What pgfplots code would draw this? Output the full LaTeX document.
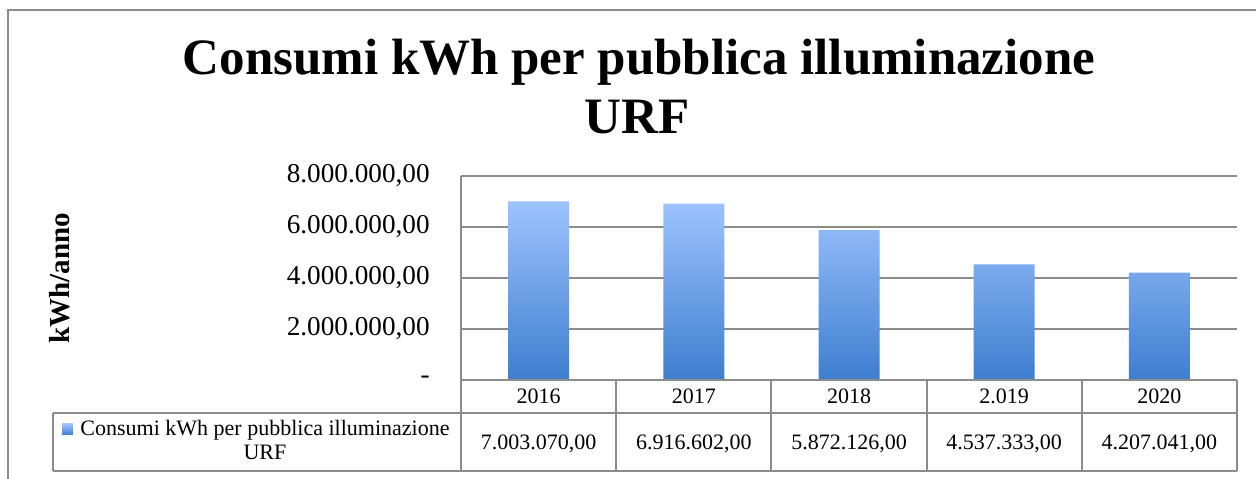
\documentclass[border=0pt]{standalone}
\usepackage{pgfplots}
\pgfplotsset{compat=1.18}
\usepackage{fontspec}
\setmainfont{Liberation Serif}
\definecolor{barTop}{RGB}{157,195,255}
\definecolor{barBot}{RGB}{62,126,206}
\definecolor{lineGray}{RGB}{140,140,140}
\begin{document}
\begin{tikzpicture}
\begin{axis}[
  at={(230.5bp,49.5bp)}, anchor=south west,
  scale only axis, width=388bp, height=102bp,
  xmin=0, xmax=5, ymin=0, ymax=8000000,
  axis line style={draw=none},
  major tick length=0pt,
  scaled y ticks=false,
  ytick={0,2000000,4000000,6000000,8000000},
  yticklabels={{-\hspace{6.5bp}},{2.000.000,00},{4.000.000,00},{6.000.000,00},{8.000.000,00}},
  yticklabel style={anchor=east, inner sep=0pt, xshift=-15.5bp, font=\fontsize{13.6bp}{15bp}\selectfont},
  ymajorgrids, grid style={lineGray, line width=1bp},
  xtick={0.5,1.5,2.5,3.5,4.5},
  xticklabels={{2016\\7.003.070,00},{2017\\6.916.602,00},{2018\\5.872.126,00},{2.019\\4.537.333,00},{2020\\4.207.041,00}},
  xticklabel style={align=center, anchor=north, inner sep=0pt, yshift=-4.35bp, font=\fontsize{11bp}{23bp}\selectfont},
  clip=false,
]
\addplot[ybar, bar width=30.5bp, draw=none, top color=barTop, bottom color=barBot] coordinates {
  (0.5,7003070) (1.5,6916602) (2.5,5872126) (3.5,4537333) (4.5,4207041)
};
\end{axis}
\begin{scope}[x=0.5bp, y=0.5bp]
  \path[use as bounding box] (0,0) rectangle (1256,479);
  % outer frame
  \draw[lineGray, line width=1.3bp] (8,0) -- (8,469) -- (1256,469);
  % axis left line
  \draw[lineGray, line width=1bp] (461,303) -- (461,99);
  % data table
  \draw[lineGray, line width=1bp] (461,99) -- (1237,99);
  \draw[lineGray, line width=1bp] (53,66) -- (1237,66);
  \draw[lineGray, line width=1bp] (53,8) -- (1237,8);
  \draw[lineGray, line width=1bp] (53,66) -- (53,8);
  \foreach \k in {0,1,2,3,4,5} {
    \draw[lineGray, line width=1bp] ({461+155.2*\k},99) -- ({461+155.2*\k},8);
  }
  % legend cell
  \fill[top color=barTop, bottom color=barBot] (62,55) rectangle (73,44);
  \node[anchor=base, inner sep=0pt, font=\fontsize{11bp}{13bp}\selectfont] at (265,43) {Consumi kWh per pubblica illuminazione};
  \node[anchor=base, inner sep=0pt, font=\fontsize{11bp}{13bp}\selectfont] at (265,19) {URF};
  % y label
  \node[rotate=90, inner sep=0pt, font=\fontsize{14.5bp}{17bp}\selectfont\bfseries] at (60,200.5) {kWh/anno};
  % title
  \node[anchor=base, inner sep=0pt, font=\fontsize{25.5bp}{30bp}\selectfont\bfseries] at (639,404) {Consumi kWh per pubblica illuminazione};
  \node[anchor=base, inner sep=0pt, font=\fontsize{25.5bp}{30bp}\selectfont\bfseries] at (637,345) {URF};
\end{scope}
\end{tikzpicture}
\end{document}
